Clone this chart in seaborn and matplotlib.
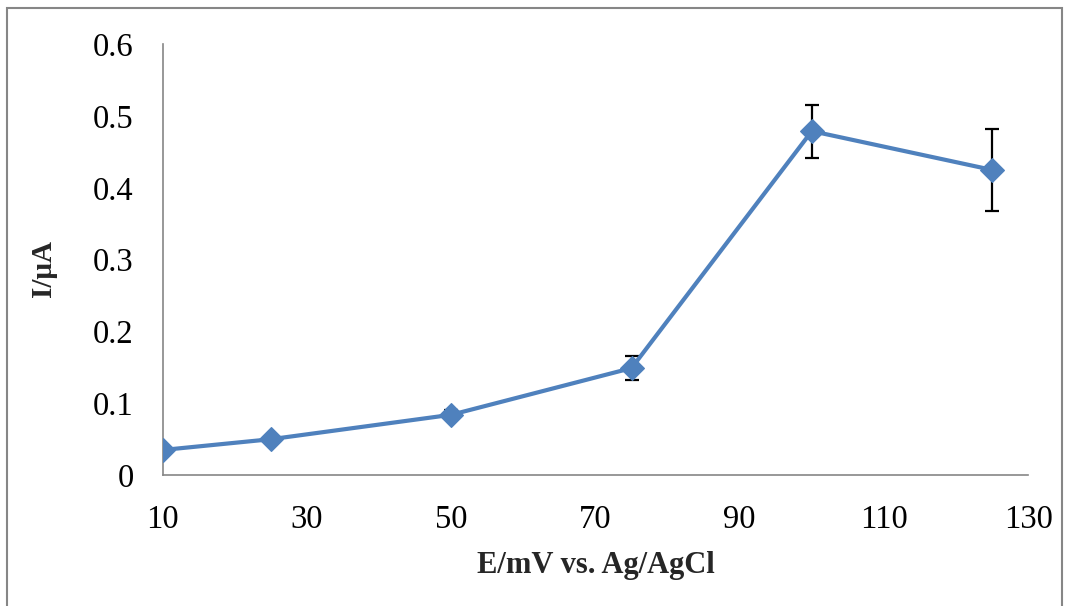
import matplotlib
matplotlib.use("Agg")
import matplotlib.pyplot as plt
import matplotlib.patches as mpatches
import seaborn as sns
import pandas as pd

# Data
potential_mV = [10, 25, 50, 75, 100, 125]
current_uA = [0.035, 0.050, 0.084, 0.149, 0.479, 0.425]
error_uA = [0.004, 0.005, 0.006, 0.017, 0.037, 0.057]
x_ticks = [10, 30, 50, 70, 90, 110, 130]
y_ticks = [0, 0.1, 0.2, 0.3, 0.4, 0.5, 0.6]
y_tick_labels = ["0", "0.1", "0.2", "0.3", "0.4", "0.5", "0.6"]

df = pd.DataFrame({"E": potential_mV, "I": current_uA, "err": error_uA})

sns.set_theme(style="white")
plt.rcParams["font.family"] = ["Liberation Serif", "DejaVu Serif"]

fig = plt.figure(figsize=(10.71, 6.06), dpi=100)
ax = fig.add_axes([0.152, 0.216, 0.808, 0.711])

ax.errorbar(df["E"], df["I"], yerr=df["err"], fmt="none", ecolor="black",
            elinewidth=1.6, capsize=5, capthick=1.6, zorder=2)
sns.lineplot(data=df, x="E", y="I", ax=ax, color="#4F81BD", linewidth=3,
             marker="D", markersize=12.5, markeredgecolor="#4F81BD",
             markeredgewidth=0.8, zorder=3)

ax.set_xlim(10, 130)
ax.set_ylim(0, 0.6)
ax.set_xticks(x_ticks)
ax.set_xticklabels([str(v) for v in x_ticks])
ax.set_yticks(y_ticks)
ax.set_yticklabels(y_tick_labels)

for s in ["top", "right"]:
    ax.spines[s].set_visible(False)
for s in ["left", "bottom"]:
    ax.spines[s].set_color("#868686")
    ax.spines[s].set_linewidth(1.2)

ax.tick_params(axis="both", direction="in", length=8, width=1.0,
               color="#868686", labelsize=23.5, labelcolor="black")
ax.tick_params(axis="x", pad=21)
ax.tick_params(axis="y", pad=21)

ax.set_xlabel("E/mV vs. Ag/AgCl", fontsize=22, fontweight="bold", labelpad=12)
ax.set_ylabel("I/\u03bcA", fontsize=21, fontweight="bold")
ax.yaxis.set_label_coords(-0.122, 0.48)

border = mpatches.Rectangle((7 / 1071, -0.05), (1062 - 7) / 1071, 1 - 8 / 606 + 0.05,
                            transform=fig.transFigure, fill=False,
                            edgecolor="#868686", linewidth=1.5, clip_on=False)
fig.patches.append(border)

fig.savefig("out.png", dpi=100)
